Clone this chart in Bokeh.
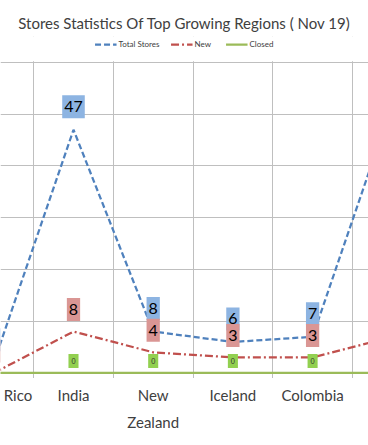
from bokeh.plotting import figure
from bokeh.models import (ColumnDataSource, Range1d, FixedTicker, LabelSet, Legend,
                          LegendItem, BoxAnnotation, Text)
from bokeh.core.properties import value
from bokeh.embed import file_html
from bokeh.resources import INLINE

# ---- data ----
categories = ["Puerto Rico", "India", "New\nZealand", "Iceland", "Colombia", "Mexico"]
total_stores = [2, 47, 8, 6, 7, 52]
new_stores = [0, 8, 4, 3, 3, 7]
closed_stores = [0, 0, 0, 0, 0, 0]
y_ticks = [10, 20, 30, 40, 50, 60]

idx = list(range(len(categories)))
boundaries = [i + 0.5 for i in idx[:-1]]

src = ColumnDataSource(dict(
    x=idx, cat=categories,
    total=total_stores, new=new_stores, closed=closed_stores,
    total_t=[str(v) for v in total_stores],
    new_t=[str(v) for v in new_stores],
    closed_t=[str(v) for v in closed_stores],
))

FONT = "Lato"
BASE_BAND = -0.97      # tick marks reach ~5px below the baseline
LABEL_Y = -2.6         # category names sit below the baseline

p = figure(width=368, height=445,
           x_range=Range1d(0.0841, 4.7014), y_range=Range1d(-14.01, 65.02),
           output_backend="svg", toolbar_location=None,
           min_border_left=0, min_border_right=0,
           min_border_top=36, min_border_bottom=0)

p.outline_line_color = None
p.background_fill_color = "white"
p.border_fill_color = "white"

# title
p.title.text = "Stores Statistics Of Top Growing Regions ( Nov 19)"
p.title.align = "center"
p.title.text_font = FONT
p.title.text_font_size = "15px"
p.title.text_font_style = "normal"
p.title.text_color = "#404040"

p.yaxis.visible = False
p.xaxis.visible = False

# grids
p.xgrid.ticker = FixedTicker(ticks=boundaries)
p.ygrid.ticker = FixedTicker(ticks=y_ticks)
p.xgrid.grid_line_color = "#BFBFBF"
p.ygrid.grid_line_color = "#BFBFBF"

# white bands so the category gridlines stop at the plot area (and tick marks)
p.add_layout(BoxAnnotation(bottom=y_ticks[-1] + 0.25, fill_color="white", fill_alpha=1,
                           line_color=None, level="underlay"))
p.add_layout(BoxAnnotation(top=BASE_BAND, fill_color="white", fill_alpha=1,
                           line_color=None, level="underlay"))

# lines
r_total = p.line("x", "total", source=src, line_color="#4F81BD", line_width=2.25, line_dash="6 3")
r_new = p.line("x", "new", source=src, line_color="#C0504D", line_width=2.25, line_dash="8 3 2 3")
r_closed = p.line("x", "closed", source=src, line_color="#9BBB59", line_width=2.25)

text_props = Text.properties()
use_glyph = "padding" in text_props and "background_fill_color" in text_props

def set_pad(model, v, h):
    try:
        model.padding = dict(left=h, right=h, top=v, bottom=v)
    except Exception:
        model.padding = max(v, h)

def data_labels(ycol, tcol, size, offset, fill, pv, ph, color="black"):
    if use_glyph:
        r = p.text(x="x", y=ycol, text=tcol, source=src, text_align="center",
                   text_baseline="middle", y_offset=-offset,
                   text_font=value(FONT), text_font_size=size, text_color=color,
                   background_fill_color=fill)
        set_pad(r.glyph, pv, ph)
    else:
        ls = LabelSet(x="x", y=ycol, text=tcol, source=src, text_align="center",
                      text_baseline="middle", y_offset=offset,
                      text_font=FONT, text_font_size=size, text_color=color,
                      background_fill_color=fill)
        if "padding" in ls.properties():
            set_pad(ls, pv, ph)
        p.add_layout(ls)

data_labels("total", "total_t", "16px", 23, "#8DB4E2", 6, 2)
data_labels("new", "new_t", "16px", 22, "#DA9694", 6, 2)
data_labels("closed", "closed_t", "7px", 12, "#92D050", 4, 3, color="#333333")

# category names
p.text(x="x", y=LABEL_Y, text="cat", source=src, text_align="center", text_baseline="top",
       text_font=value(FONT), text_font_size="15px", text_color="#404040",
       text_line_height=1.5)

# legend (empty band at top of the frame)
legend = Legend(items=[LegendItem(label="Total Stores", renderers=[r_total]),
                       LegendItem(label="New", renderers=[r_new]),
                       LegendItem(label="Closed", renderers=[r_closed])],
                orientation="horizontal", location="top_center",
                label_text_font=FONT, label_text_font_size="8px", label_text_color="#404040",
                glyph_width=22, glyph_height=16, label_height=16, label_standoff=2, spacing=11,
                border_line_color=None, background_fill_alpha=0,
                margin=0, padding=0)
p.add_layout(legend)

open("out.html", "w").write(file_html(p, INLINE))
